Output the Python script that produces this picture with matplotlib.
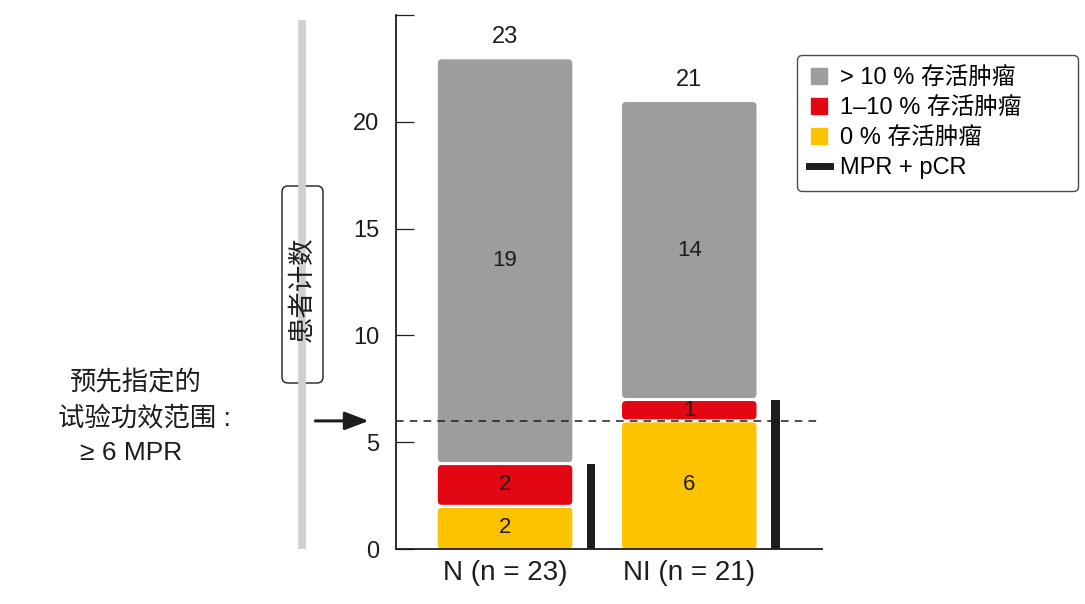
import matplotlib
matplotlib.use("Agg")
import matplotlib.pyplot as plt
import numpy as np
from matplotlib.patches import FancyBboxPatch
from matplotlib.lines import Line2D

plt.rcParams['font.family'] = ['Liberation Sans', 'Noto Sans CJK SC', 'DejaVu Sans']

# data
groups = ['N (n = 23)', 'NI (n = 21)']
pct0 = [2, 6]          # 0 % viable tumour
pct1_10 = [2, 1]       # 1-10 % viable tumour
pct_gt10 = [19, 14]    # > 10 % viable tumour
mpr_pcr = [4, 7]
totals = [23, 21]
threshold = 6

seg_labels = ['0 % 存活肿瘤', '1–10 % 存活肿瘤', '> 10 % 存活肿瘤']
seg_colors = ['#fdc300', '#e30613', '#9d9d9c']
mpr_color = '#1d1d1b'
ink = '#1d1d1b'

W, H = 1085, 604
fig = plt.figure(figsize=(W / 100, H / 100), dpi=100)
ax = fig.add_axes([0.365, 0.091, 0.393, 0.884])

x = np.arange(len(groups))
width = 0.73
ax.set_xlim(-0.592, 1.723)
ax.set_ylim(0, 25)

# rounded stacked segments
px_x = 0.393 * W / (1.723 + 0.592)
px_y = 0.884 * H / 25
r = 4 / px_x
gap = 1.5 / px_y
bottom = np.zeros(len(groups))
for vals, col in zip([pct0, pct1_10, pct_gt10], seg_colors):
    vals = np.array(vals, dtype=float)
    for xi, b, v in zip(x, bottom, vals):
        y0 = b + (gap if b > 0 else 0)
        h = v - (gap if b > 0 else 0) - gap
        p = FancyBboxPatch((xi - width / 2, y0), width, h,
                           boxstyle=f"round,pad=0,rounding_size={r}",
                           mutation_aspect=px_x / px_y,
                           facecolor=col, edgecolor='none', zorder=2)
        ax.add_patch(p)
        ax.text(xi, b + v / 2, str(int(v)), ha='center', va='center',
                fontsize=16, color=ink, zorder=4)
    bottom += vals

for xi, t in zip(x, totals):
    ax.text(xi, t + 0.45, str(t), ha='center', va='bottom', fontsize=17,
            color=ink)

ax.bar(x + 0.468, mpr_pcr, width=0.045, color=mpr_color, zorder=2)

ax.axhline(threshold, color=ink, lw=1.1, ls=(0, (5, 4)), zorder=3)

# axes style
for s in ['top', 'right']:
    ax.spines[s].set_visible(False)
for s in ['left', 'bottom']:
    ax.spines[s].set_linewidth(1.3)
    ax.spines[s].set_color(ink)
ax.set_yticks([0, 5, 10, 15, 20, 25])
ax.set_yticklabels(['0', '5', '10', '15', '20', ''])
ax.tick_params(axis='y', direction='in', length=13, width=0.9,
               labelsize=17, pad=12, colors=ink)
ax.set_xticks(x)
ax.set_xticklabels(groups)
ax.tick_params(axis='x', length=0, labelsize=20, pad=8, colors=ink)

# grey guide bar with y label box
fig.add_artist(Line2D([302 / W, 302 / W], [1 - 20 / H, 1 - 549 / H],
                      color='#d0d0d0', lw=5.5, solid_capstyle='butt'))
fig.add_artist(FancyBboxPatch((282 / W, 1 - 383 / H), 41 / W, 197 / H,
                              boxstyle=f"round,pad=0,rounding_size={6 / W}",
                              mutation_aspect=W / H, transform=fig.transFigure,
                              facecolor='white', edgecolor=ink, lw=1.0))
fig.text(303 / W, 1 - 289 / H, '患者计数', rotation=90, ha='center',
         va='center', fontsize=19, color=ink)

# arrow to threshold
ax.annotate('', xy=(-0.74, threshold), xytext=(-1.03, threshold),
            xycoords='data', textcoords='data', annotation_clip=False,
            arrowprops=dict(arrowstyle='-|>,head_length=1.45,head_width=0.55',
                            color=ink, lw=2.2, shrinkA=0, shrinkB=0))

fig.text(70 / W, 1 - 383 / H, '预先指定的', fontsize=19, color=ink,
         ha='left', va='center')
fig.text(58 / W, 1 - 418 / H, '试验功效范围 :', fontsize=19,
         color=ink, ha='left', va='center')
fig.text(80 / W, 1 - 453 / H, '≥ 6 MPR', fontsize=19, color=ink,
         ha='left', va='center')

# legend
handles = [
    Line2D([], [], marker='s', ls='none', color=seg_colors[2], markersize=11),
    Line2D([], [], marker='s', ls='none', color=seg_colors[1], markersize=11),
    Line2D([], [], marker='s', ls='none', color=seg_colors[0], markersize=11),
    Line2D([], [], color=mpr_color, lw=5),
]
leg = fig.legend(handles, [seg_labels[2], seg_labels[1], seg_labels[0], 'MPR + pCR'],
                 loc='upper left', bbox_to_anchor=(797 / W, 1 - 61 / H, 281 / W, 0.01),
                 mode='expand', fontsize=17, frameon=True, handlelength=0.9,
                 handletextpad=0.4, labelspacing=0.34, borderpad=0.5,
                 borderaxespad=0, fancybox=True)
leg.get_frame().set_edgecolor(ink)
leg.get_frame().set_linewidth(1.0)

fig.savefig('out.png', dpi=100)
